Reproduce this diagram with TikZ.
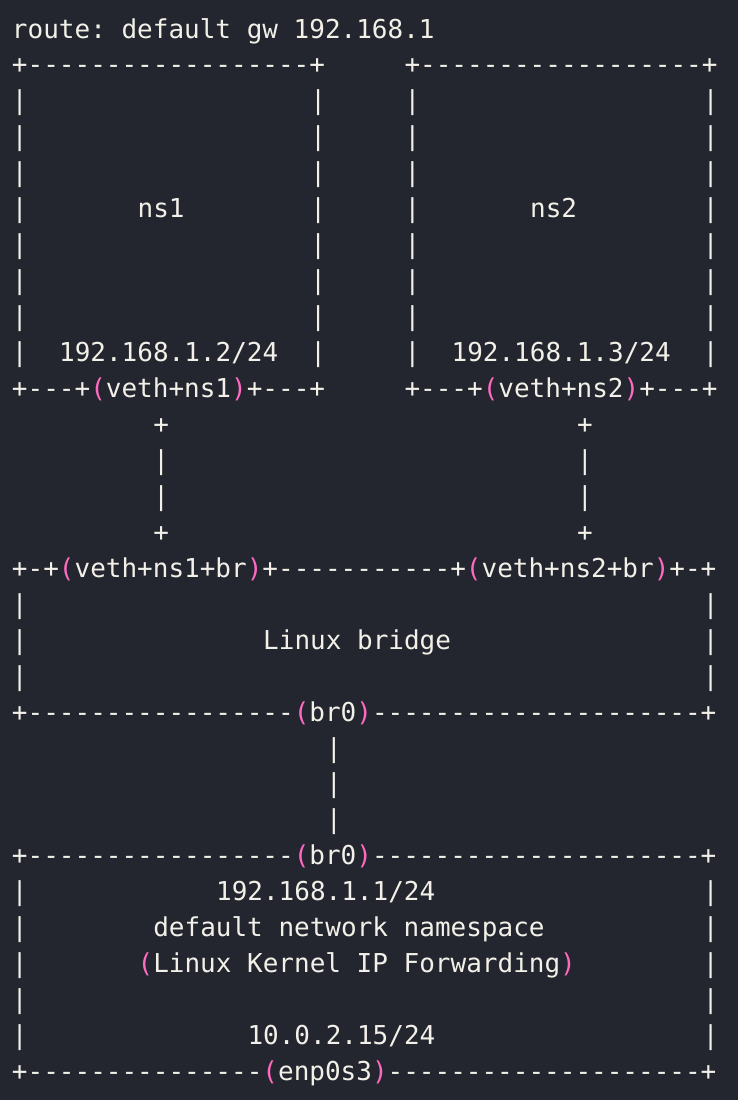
\documentclass[tikz,border=0pt]{standalone}
\usepackage{fontspec}
\setmonofont{DejaVu Sans Mono}
\definecolor{bgc}{HTML}{23262E}
\definecolor{fgc}{HTML}{F2F0E8}
\definecolor{pinkc}{HTML}{FF6AC1}
\newcommand{\lp}{\textcolor{pinkc}{(}}
\newcommand{\rp}{\textcolor{pinkc}{)}}
\tikzset{asc/.style={anchor=base west,inner sep=0pt,outer sep=0pt,font=\ttfamily\fontsize{26}{26}\selectfont,text=fgc}}

\begin{document}
\begin{tikzpicture}
\fill[bgc] (0pt,0pt) rectangle (738pt,-1100pt);
\begin{scope}[shift={(12pt,-38pt)},x=15.7pt,y=-35.95pt]
    % route line
    \node[asc] (route) at (0,0) {route: default gw 192.168.1};

    % ns1 and ns2 boxes
    \node[asc] (ns1top) at (0,1) {+------------------+};
    \node[asc] (ns2top) at (25,1) {+------------------+};
    \foreach \r in {2,...,9}
        \foreach \c in {0,19,25,44}
            \node[asc] (bar-\r-\c) at (\c,\r) {|};
    \node[asc] (ns1) at (8,5) {ns1};
    \node[asc] (ns2) at (33,5) {ns2};
    \node[asc] (ip1) at (3,9) {192.168.1.2/24};
    \node[asc] (ip2) at (28,9) {192.168.1.3/24};
    \node[asc] (veth1) at (0,10) {+---+\lp veth+ns1\rp+---+};
    \node[asc] (veth2) at (25,10) {+---+\lp veth+ns2\rp+---+};

    % veth pairs
    \foreach \c in {9,36} {
        \node[asc] (plusa-\c) at (\c,11) {+};
        \node[asc] (link-\c-a) at (\c,12) {|};
        \node[asc] (link-\c-b) at (\c,13) {|};
        \node[asc] (plusb-\c) at (\c,14) {+};
    }

    % bridge
    \node[asc] (brtop) at (0,15) {+-+\lp veth+ns1+br\rp+-----------+\lp veth+ns2+br\rp+-+};
    \foreach \r in {16,17,18}
        \foreach \c in {0,44}
            \node[asc] (bbar-\r-\c) at (\c,\r) {|};
    \node[asc] (bridge) at (16,17) {Linux bridge};
    \node[asc] (brbot) at (0,19) {+-----------------\lp br0\rp---------------------+};
    \foreach \r in {20,21,22}
        \node[asc] (brlink-\r) at (20,\r) {|};

    % default namespace
    \node[asc] (hosttop) at (0,23) {+-----------------\lp br0\rp---------------------+};
    \foreach \r in {24,...,28}
        \foreach \c in {0,44}
            \node[asc] (hbar-\r-\c) at (\c,\r) {|};
    \node[asc] (ip0) at (13,24) {192.168.1.1/24};
    \node[asc] (defns) at (9,25) {default network namespace};
    \node[asc] (fwd) at (8,26) {\lp Linux Kernel IP Forwarding\rp};
    \node[asc] (ipeth) at (15,28) {10.0.2.15/24};
    \node[asc] (hostbot) at (0,29) {+---------------\lp enp0s3\rp--------------------+};
\end{scope}
\end{tikzpicture}
\end{document}
